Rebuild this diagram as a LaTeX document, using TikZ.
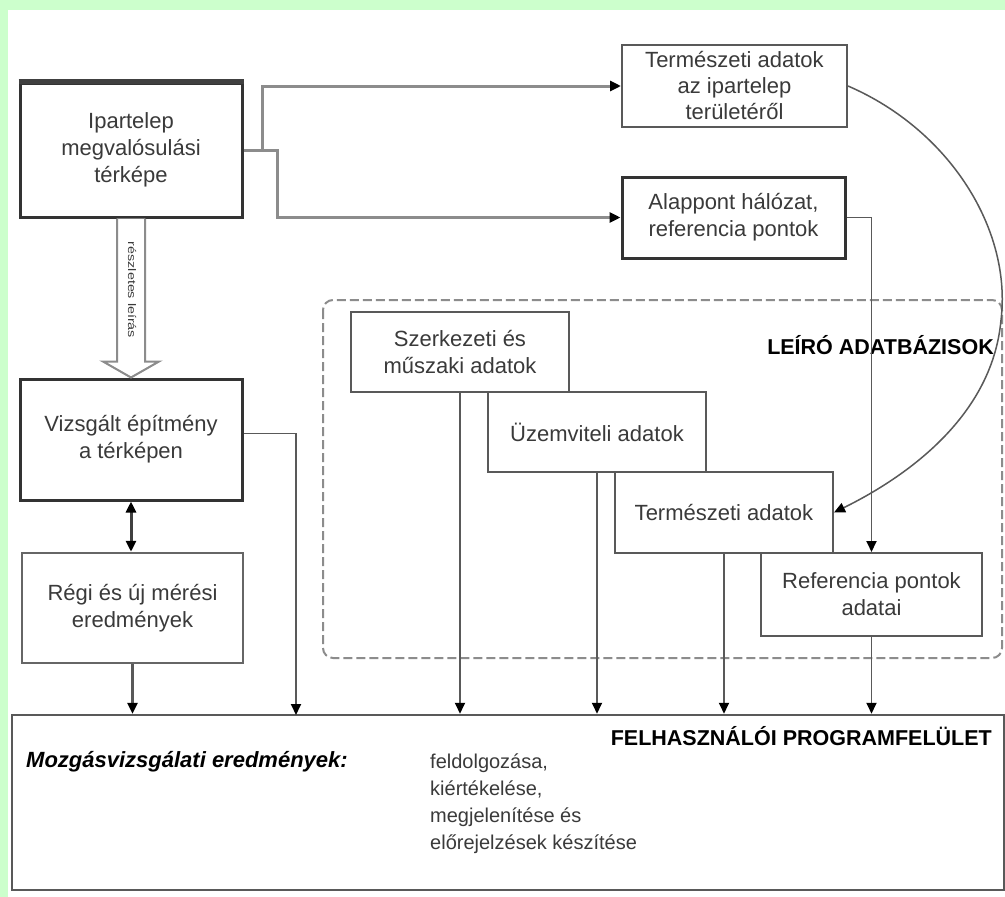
\documentclass[tikz,border=0pt]{standalone}
\usepackage{fontspec}
\setmainfont{Liberation Sans}
\usetikzlibrary{arrows.meta,positioning}

\definecolor{pagegreen}{HTML}{CCFFCC}
\definecolor{boxline}{HTML}{595959}
\definecolor{lightline}{HTML}{8C8C8C}
\definecolor{inktext}{HTML}{3A3A3A}

\begin{document}
\begin{tikzpicture}[
  x=1pt, y=-1pt,
  >={Triangle[length=11pt,width=10pt,color=black]},
  every node/.style={inner sep=0pt, text=inktext, font=\fontsize{22}{27}\selectfont},
  darkbox/.style={draw=black!80, line width=3pt, fill=white, align=center},
  graybox/.style={draw=boxline, line width=2pt, fill=white, align=center},
  feed/.style={draw=lightline, line width=3pt},
  drop/.style={draw=boxline, line width=1.8pt, ->},
  heading/.style={text=black, font=\bfseries\fontsize{21.5}{26}\selectfont}
]
% page
\fill[pagegreen] (0,0) rectangle (1005,897);
\fill[white] (8,10) rectangle (1005,897);
\useasboundingbox (0,0) rectangle (1005,897);

% descriptive databases
\draw[draw=lightline, line width=2pt, dash pattern=on 9pt off 4pt, rounded corners=10pt]
  (323,300) rectangle (1002,658);
\node[heading, anchor=east] (leiro) at (994,345) {LEÍRÓ ADATBÁZISOK};

% boxes
\node[darkbox, minimum width=222, minimum height=134] (ipar) at (131,150)
  {Ipartelep\\megvalósulási\\térképe};
\draw[line width=5pt, black!75] (ipar.north west) -- (ipar.north east);
\node[graybox, font=\fontsize{22}{26}\selectfont, minimum width=225, minimum height=82] (termaz) at (734.5,86)
  {Természeti adatok\\az ipartelep\\területéről};
\node[darkbox, minimum width=223, minimum height=81] (alap) at (733.5,217.5)
  {Alappont hálózat,\\referencia pontok};
\node[darkbox, minimum width=222, minimum height=121] (vizs) at (131,439.5)
  {Vizsgált építmény\\a térképen};
\node[graybox, draw=black!60, line width=2.5pt, minimum width=221, minimum height=110] (regi) at (132.5,608)
  {Régi és új mérési\\eredmények};
\node[graybox, minimum width=218, minimum height=80] (szerk) at (460,352)
  {Szerkezeti és\\műszaki adatok};
\node[graybox, minimum width=218, minimum height=80] (uzem) at (597,432) {Üzemviteli adatok};
\node[graybox, minimum width=218, minimum height=81] (term) at (724,512.5) {Természeti adatok};
\node[graybox, minimum width=221, minimum height=83] (refp) at (871.5,594.5)
  {Referencia pontok\\adatai};
\node[graybox, line width=2.5pt, minimum width=992, minimum height=175] (felulet) at (508,802.5) {};

% user interface texts
\node[heading, anchor=east] (felh) at (992,736) {FELHASZNÁLÓI PROGRAMFELÜLET};
\node[anchor=west, text=black, font=\bfseries\itshape\fontsize{22}{26}\selectfont] (mozg) at (26,762)
  {Mozgásvizsgálati eredmények:};
\node[anchor=north west, align=left, font=\fontsize{20}{27}\selectfont] (teendo) at (430,754)
  {feldolgozása,\\kiértékelése,\\megjelenítése és\\előrejelzések készítése};

% hollow arrow
\draw[draw=lightline, line width=2pt, fill=white]
  ([xshift=-14]ipar.south) -- ([xshift=-14,yshift=16]vizs.north)
  -- ([xshift=-28,yshift=16]vizs.north) -- (vizs.north)
  -- ([xshift=28,yshift=16]vizs.north) -- ([xshift=14,yshift=16]vizs.north)
  -- ([xshift=14]ipar.south);
\node[rotate=-90, font=\fontsize{11}{11}\selectfont] (leiras) at (132,290)
  {\scalebox{1.3}[1]{részletes leírás}};

% connectors
\coordinate (fork) at (262,150);
\coordinate (fork2) at (277,150);
\coordinate (vizsdrop) at (296,715);
\draw[feed, ->] (ipar.east) -- (fork) |- (termaz.west);
\draw[feed, ->] (fork) -- (fork2) |- (alap.west);
\draw[drop] (alap.east) -| (refp.north);
\draw[<->, line width=3pt, draw=black!75] (vizs.south) -- (vizs.south |- regi.north);
\draw[drop, line width=2.5pt] (regi.south) -- (regi.south |- felulet.north);
\draw[drop] ([yshift=6]vizs.east) -| (vizsdrop);
\foreach \src in {szerk,uzem,term,refp}
  \draw[drop] (\src.south) -- (\src.south |- felulet.north);
\draw[draw=boxline, line width=1.5pt, ->] (termaz.east)
  .. controls (950,130) and (1012,230) .. (1001,320)
  .. controls (992,420) and (900,480) .. (term.east);
\end{tikzpicture}
\end{document}
